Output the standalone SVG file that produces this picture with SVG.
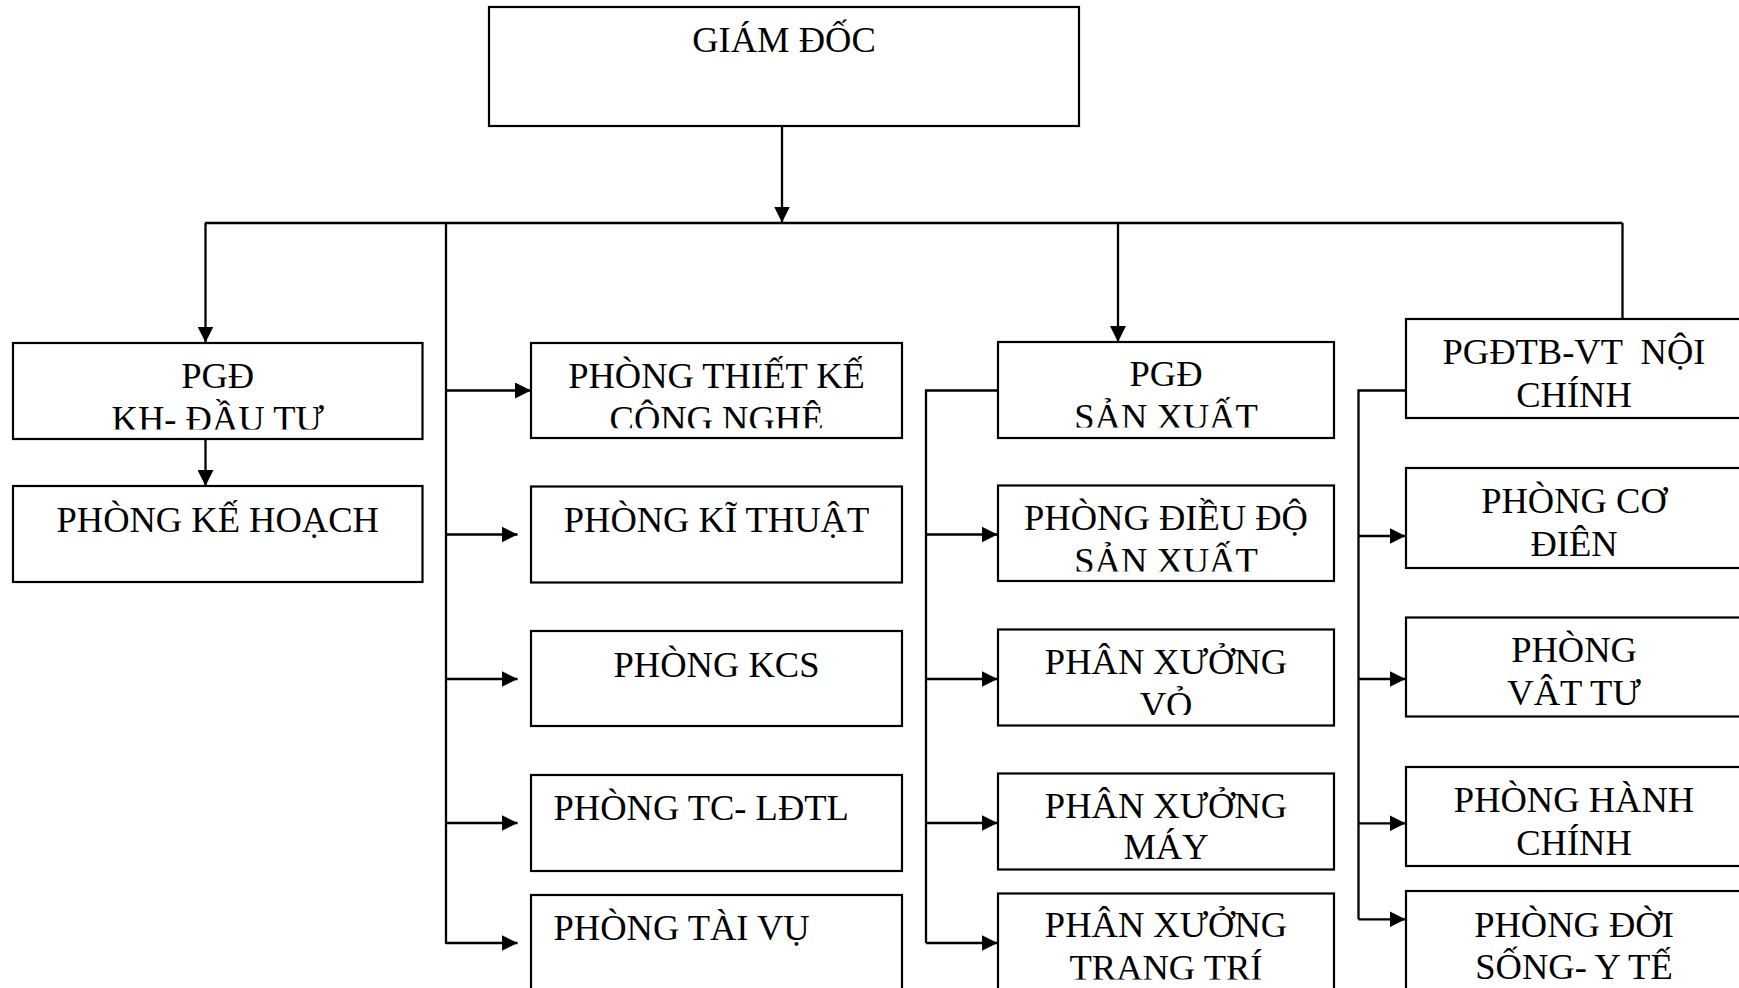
<svg xmlns="http://www.w3.org/2000/svg" width="1739" height="988" viewBox="0 0 1739 988">
<style>
.box{fill:#fff;stroke:#000;stroke-width:2.2}
.t{font-family:"Liberation Serif","Times New Roman",serif;font-size:36.5px;fill:#000;text-anchor:middle}
.s{text-anchor:start}
.c{fill:none;stroke:#000;stroke-width:2.3}
</style>
<defs>
<marker id="ah" markerWidth="16" markerHeight="16" refX="16" refY="8" orient="auto" markerUnits="userSpaceOnUse"><path d="M0,0 L16,8 L0,16 z" fill="#000"/></marker>
<clipPath id="c-kh"><rect x="13" y="343" width="409.5" height="86.5"/></clipPath>
<clipPath id="c-tk"><rect x="531" y="343" width="371" height="85.3"/></clipPath>
<clipPath id="c-sx"><rect x="998" y="342" width="336" height="85.5"/></clipPath>
<clipPath id="c-dd"><rect x="998" y="485.5" width="336" height="86"/></clipPath>
<clipPath id="c-vo"><rect x="998" y="629.5" width="336" height="85.5"/></clipPath>
<clipPath id="c-may"><rect x="998" y="773.5" width="336" height="86"/></clipPath>
<clipPath id="c-tt"><rect x="998" y="893.5" width="336" height="86"/></clipPath>
<clipPath id="c-tb"><rect x="1406" y="319" width="336" height="89.5"/></clipPath>
<clipPath id="c-cd"><rect x="1406" y="468" width="336" height="89.5"/></clipPath>
<clipPath id="c-vt"><rect x="1406" y="617.5" width="336" height="88.5"/></clipPath>
<clipPath id="c-hc"><rect x="1406" y="767" width="336" height="89"/></clipPath>
<clipPath id="c-ds"><rect x="1406" y="891" width="336" height="89.5"/></clipPath>
</defs>
<rect x="0" y="0" width="1739" height="988" fill="#fff"/>

<g id="connectors">
<path class="c" d="M782,126 V222.5" marker-end="url(#ah)"/>
<path class="c" d="M205,223 H1622.5"/>
<path class="c" d="M205.5,223 V342.5" marker-end="url(#ah)"/>
<path class="c" d="M446,223 V944"/>
<path class="c" d="M1118,223 V342" marker-end="url(#ah)"/>
<path class="c" d="M1622.5,223 V319"/>
<path class="c" d="M205.5,439 V486" marker-end="url(#ah)"/>
<path class="c" d="M446,390.5 H531" marker-end="url(#ah)"/>
<path class="c" d="M446,534.5 H517.5" marker-end="url(#ah)"/>
<path class="c" d="M446,679 H517.5" marker-end="url(#ah)"/>
<path class="c" d="M446,823 H517.5" marker-end="url(#ah)"/>
<path class="c" d="M446,943 H517.5" marker-end="url(#ah)"/>
<path class="c" d="M998,390.5 H926 V943"/>
<path class="c" d="M926,534.5 H997.5" marker-end="url(#ah)"/>
<path class="c" d="M926,679 H997.5" marker-end="url(#ah)"/>
<path class="c" d="M926,823 H997.5" marker-end="url(#ah)"/>
<path class="c" d="M926,943 H997.5" marker-end="url(#ah)"/>
<path class="c" d="M1406,390.5 H1358.5 V919.3"/>
<path class="c" d="M1358.5,536 H1405.5" marker-end="url(#ah)"/>
<path class="c" d="M1358.5,679 H1405.5" marker-end="url(#ah)"/>
<path class="c" d="M1358.5,823.3 H1405.5" marker-end="url(#ah)"/>
<path class="c" d="M1358.5,919.3 H1405.5" marker-end="url(#ah)"/>
</g>

<g id="giam-doc"><rect class="box" x="489" y="7" width="590" height="119"/><text class="t" x="784" y="52">GIÁM ĐỐC</text></g>

<g id="pgd-kh"><rect class="box" x="13" y="343" width="409.5" height="96"/><g clip-path="url(#c-kh)"><text class="t" x="217.7" y="388">PGĐ</text><text class="t" x="217.7" y="431">KH- ĐẦU TƯ</text></g></g>
<g id="phong-ke-hoach"><rect class="box" x="13" y="486" width="409.5" height="96"/><text class="t" x="217.7" y="532">PHÒNG KẾ HOẠCH</text></g>

<g id="phong-thiet-ke"><rect class="box" x="531" y="343" width="371" height="95"/><g clip-path="url(#c-tk)"><text class="t" x="716.5" y="387.5">PHÒNG THIẾT KẾ</text><text class="t" x="716.5" y="430.5">CÔNG NGHỆ</text></g></g>
<g id="phong-ki-thuat"><rect class="box" x="531" y="486.5" width="371" height="96"/><text class="t" x="716.5" y="531.5">PHÒNG KĨ THUẬT</text></g>
<g id="phong-kcs"><rect class="box" x="531" y="631" width="371" height="95"/><text class="t" x="716.5" y="676.5">PHÒNG KCS</text></g>
<g id="phong-tc"><rect class="box" x="531" y="775" width="371" height="96"/><text class="t s" x="553.5" y="820">PHÒNG TC- LĐTL</text></g>
<g id="phong-tai-vu"><rect class="box" x="531" y="895" width="371" height="95"/><text class="t s" x="553.5" y="940">PHÒNG TÀI VỤ</text></g>

<g id="pgd-sx"><rect class="box" x="998" y="342" width="336" height="96"/><g clip-path="url(#c-sx)"><text class="t" x="1166" y="386">PGĐ</text><text class="t" x="1166" y="429">SẢN XUẤT</text></g></g>
<g id="phong-dieu-do"><rect class="box" x="998" y="485.5" width="336" height="95.5"/><g clip-path="url(#c-dd)"><text class="t" x="1166" y="530">PHÒNG ĐIỀU ĐỘ</text><text class="t" x="1166" y="573">SẢN XUẤT</text></g></g>
<g id="px-vo"><rect class="box" x="998" y="629.5" width="336" height="96"/><g clip-path="url(#c-vo)"><text class="t" x="1166" y="673.5">PHÂN XƯỞNG</text><text class="t" x="1166" y="716.5">VỎ</text></g></g>
<g id="px-may"><rect class="box" x="998" y="773.5" width="336" height="96"/><g clip-path="url(#c-may)"><text class="t" x="1166" y="817.5">PHÂN XƯỞNG</text><text class="t" x="1166" y="859">MÁY</text></g></g>
<g id="px-trang-tri"><rect class="box" x="998" y="893.5" width="336" height="96.5"/><g clip-path="url(#c-tt)"><text class="t" x="1166" y="937">PHÂN XƯỞNG</text><text class="t" x="1166" y="979.5">TRANG TRÍ</text></g></g>

<g id="pgd-tb-vt"><rect class="box" x="1406" y="319" width="336" height="99"/><g clip-path="url(#c-tb)"><text class="t" x="1574" y="364" xml:space="preserve">PGĐTB-VT  NỘI</text><text class="t" x="1574" y="407">CHÍNH</text></g></g>
<g id="phong-co-dien"><rect class="box" x="1406" y="468" width="336" height="100"/><g clip-path="url(#c-cd)"><text class="t" x="1574" y="513">PHÒNG CƠ</text><text class="t" x="1574" y="555.5">ĐIỆN</text></g></g>
<g id="phong-vat-tu"><rect class="box" x="1406" y="617.5" width="336" height="99"/><g clip-path="url(#c-vt)"><text class="t" x="1574" y="661.5">PHÒNG</text><text class="t" x="1574" y="704.5">VẬT TƯ</text></g></g>
<g id="phong-hanh-chinh"><rect class="box" x="1406" y="767" width="336" height="99"/><g clip-path="url(#c-hc)"><text class="t" x="1574" y="811.5">PHÒNG HÀNH</text><text class="t" x="1574" y="854.5">CHÍNH</text></g></g>
<g id="phong-doi-song"><rect class="box" x="1406" y="891" width="336" height="100"/><g clip-path="url(#c-ds)"><text class="t" x="1574" y="936.5">PHÒNG ĐỜI</text><text class="t" x="1574" y="979">SỐNG- Y TẾ</text></g></g>
</svg>
